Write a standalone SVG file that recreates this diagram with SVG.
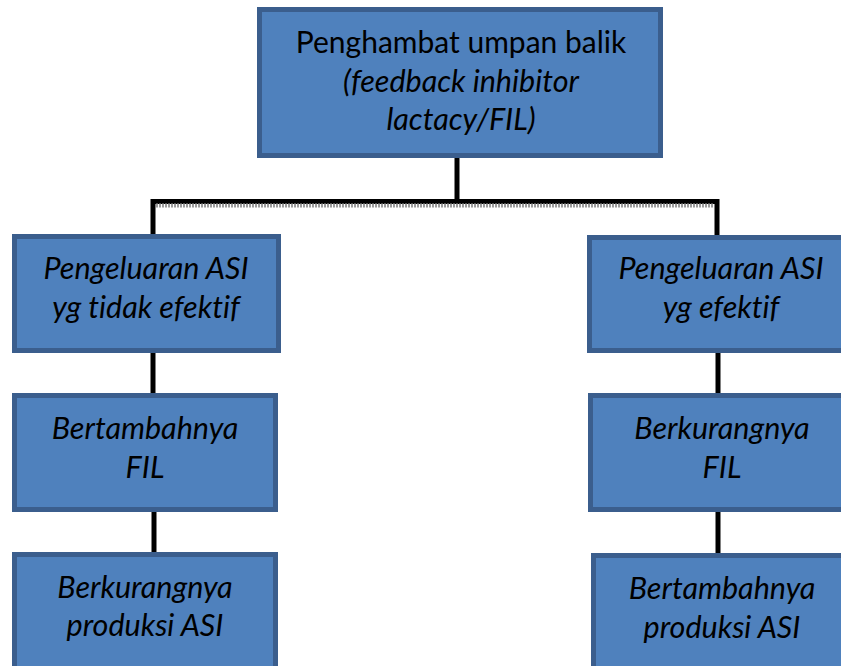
<svg xmlns="http://www.w3.org/2000/svg" width="841" height="666" viewBox="0 0 841 666">
<style>
.box{fill:#4f81bd;stroke:#3b5e8d;stroke-width:5}
.t{font-family:Lato,"Liberation Sans",sans-serif;font-size:30px;fill:#000;text-anchor:middle;font-variant-ligatures:none;font-feature-settings:"liga" 0,"dlig" 0}
.i{font-style:italic;font-size:30.5px}
.c{stroke:#000;stroke-width:5;fill:none}
.g{stroke:#9a9a9a;stroke-width:4;fill:none;stroke-dasharray:2 1}
</style>
<rect width="841" height="666" fill="#fff"/>
<g id="connectors">
<line class="c" x1="457" y1="158" x2="457" y2="202"/>
<polyline class="c" points="153,237 153,201.5 717,201.5 717,237"/>
<line class="g" x1="156" y1="205.5" x2="714" y2="205.5"/>
<line class="c" x1="153" y1="353" x2="153" y2="393"/>
<line class="c" x1="154" y1="512" x2="154" y2="552"/>
<line class="c" x1="718" y1="353" x2="718" y2="393"/>
<line class="c" x1="718" y1="512" x2="718" y2="553"/>
</g>
<g id="top">
<rect class="box" x="259.5" y="9.5" width="401" height="146"/>
<text class="t" x="461" y="53">Penghambat umpan balik</text>
<text class="t i" x="461" y="92">(feedback inhibitor</text>
<text class="t i" x="461" y="130">lactacy/FIL)</text>
</g>
<g id="left1">
<rect class="box" x="14.5" y="236.5" width="264" height="114"/>
<text class="t i" x="146" y="279">Pengeluaran ASI</text>
<text class="t i" x="146" y="318">yg tidak efektif</text>
</g>
<g id="left2">
<rect class="box" x="14.5" y="395.5" width="261" height="114"/>
<text class="t i" x="145" y="439">Bertambahnya</text>
<text class="t i" x="145" y="478">FIL</text>
</g>
<g id="left3">
<rect class="box" x="14.5" y="554.5" width="261" height="120"/>
<text class="t i" x="145" y="598">Berkurangnya</text>
<text class="t i" x="145" y="636">produksi ASI</text>
</g>
<g id="right1">
<rect class="box" x="589.5" y="237.5" width="266" height="113"/>
<text class="t i" x="721" y="279">Pengeluaran ASI</text>
<text class="t i" x="721" y="318">yg efektif</text>
</g>
<g id="right2">
<rect class="box" x="590.5" y="395.5" width="266" height="114"/>
<text class="t i" x="722" y="439">Berkurangnya</text>
<text class="t i" x="722" y="478">FIL</text>
</g>
<g id="right3">
<rect class="box" x="593.5" y="555.5" width="266" height="120"/>
<text class="t i" x="722" y="599">Bertambahnya</text>
<text class="t i" x="722" y="638">produksi ASI</text>
</g>
</svg>
